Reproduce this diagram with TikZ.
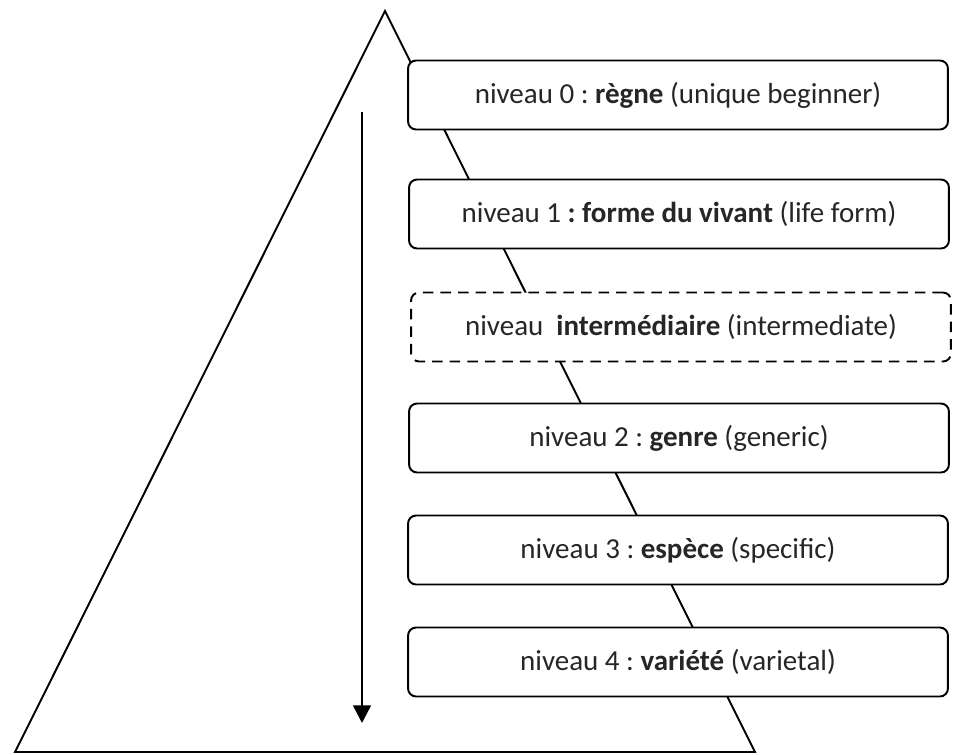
\documentclass[tikz,border=0pt]{standalone}
\usepackage{fontspec}
\setmainfont{Carlito}
\usetikzlibrary{arrows.meta}
\frenchspacing
\tikzset{
	niveau/.style={draw, fill=white, rounded corners=0.16cm, line width=1.1pt, minimum width=10.8cm, minimum height=1.38cm, font=\fontsize{16.5}{19}\selectfont, text=black!85},
}

\begin{document}
\begin{tikzpicture}[x=0.02cm, y=-0.02cm]
				\useasboundingbox (0,0) rectangle (953,754);
				
				\draw[line width=1.1pt, line join=miter] (385,11) -- (755,752) -- (15,752) -- cycle;
				
				\node[niveau] (regne) at (678,95) {niveau 0 : \textbf{règne} (unique beginner)};
				\node[niveau] (forme) at (679,214) {niveau 1 \textbf{: forme du vivant} (life form)};
				\node[niveau, dashed, dash pattern=on 6pt off 4pt] (inter) at (681,327) {niveau \ \textbf{intermédiaire} (intermediate)};
				\node[niveau] (genre) at (679,438) {niveau 2 : \textbf{genre} (generic)};
				\node[niveau] (espece) at (678,550) {niveau 3 : \textbf{espèce} (specific)};
				\node[niveau] (variete) at (678,662) {niveau 4 : \textbf{variété} (varietal)};
				
				\coordinate (haut) at (362,112);
				\coordinate (bas) at (362,723);
				\draw[line width=1.4pt, -{Triangle[length=10pt, width=10pt]}] (haut) -- (bas);
\end{tikzpicture}
\end{document}
